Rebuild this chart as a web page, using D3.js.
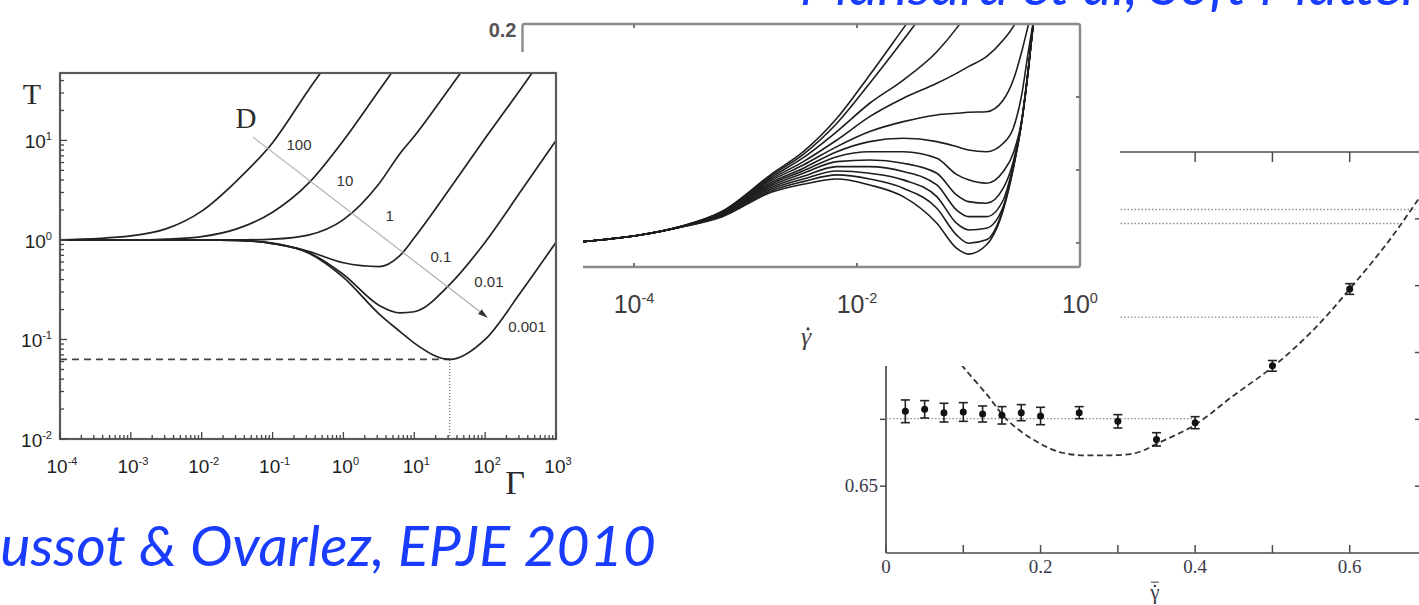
<!DOCTYPE html>
<html>
<head>
<meta charset="utf-8">
<script src="https://cdn.jsdelivr.net/npm/d3@7/dist/d3.min.js"></script>
<style>
  html, body { margin: 0; padding: 0; background: #fff; overflow: hidden; }
  svg { display: block; }
</style>
</head>
<body>
<svg id="fig" width="1419" height="605"></svg>
<script>
// ---------------- Left figure: temperature T vs. Γ for several D ----------------
const gammaA    = [1e-4, 1e-3, 3.2e-3, 0.01, 0.032, 0.1, 0.32, 1, 3.2, 6.3, 10, 32, 100, 320, 1000];
const tempD100  = [1.0, 1.1, 1.3, 1.95, 4.0, 9.5, 32, 100, null, null, null, null, null, null, null];
const tempD10   = [1.0, 1.0, 1.02, 1.08, 1.3, 1.9, 3.7, 10, 32, 63, null, null, null, null, null];
const tempD1    = [1.0, 1.0, 1.0, 1.0, 1.0, 1.02, 1.12, 1.6, 3.7, 7.4, 11, 34, 105, null, null];
const tempD01   = [1.0, 1.0, 1.0, 1.0, 0.99, 0.93, 0.77, 0.59, 0.54, 0.7, 1.05, 3.3, 10.5, 33, 105];
const tempD001  = [1.0, 1.0, 1.0, 1.0, 0.99, 0.92, 0.75, 0.45, 0.22, 0.185, 0.19, 0.36, 0.95, 3.1, 10];
const tempD0001 = [1.0, 1.0, 1.0, 1.0, 0.99, 0.92, 0.74, 0.42, 0.18, 0.12, 0.092, 0.063, 0.1, 0.3, 0.95];
const dLabels   = ["100", "10", "1", "0.1", "0.01", "0.001"];
const dLabelPos = [[0.236, 9.0], [1.05, 3.9], [4.5, 1.74], [23.8, 0.67], [113, 0.38], [390, 0.134]];
const dArrow    = [[0.053, 10.8], [106, 0.168]];
const dTitlePos = [0.042, 13.4];
const gammaMin  = 31.6;
const tempMin   = 0.063;
const expXA = [-4, -3, -2, -1, 0, 1, 2, 3];
const expYA = [-2, -1, 0, 1];

// ---------------- Middle figure: flow curves, stress vs. shear rate ----------------
const rateB = [3.5e-5, 1.1e-4, 2.6e-4, 6.2e-4, 1.7e-3, 3.3e-3, 6.6e-3, 0.013, 0.026, 0.052,
               0.078, 0.10, 0.145, 0.205, 0.252, 0.30, 0.344, 0.381];
const flowCurves = [
  [.0509,.0552,.0612,.0718,.0970,.1125,.1354,.1651,.1970,.2290,null,null,null,null,null,null,null,null],
  [.0509,.0552,.0612,.0715,.0962,.1107,.1320,.1594,.1890,.2200,null,null,null,null,null,null,null,null],
  [.0509,.0552,.0611,.0712,.0950,.1084,.1263,.1457,.1616,.1810,.1970,.2085,null,null,null,null,null,null],
  [.0509,.0552,.0611,.0709,.0938,.1057,.1205,.1365,.1491,.1594,.1662,.1708,.1776,.1890,.1982,.2107,null,null],
  [.0509,.0552,.0610,.0705,.0927,.1034,.1160,.1263,.1331,.1377,.1388,.1395,.1399,.1479,.1616,.1810,.1993,.2130],
  [.0509,.0552,.0610,.0702,.0915,.1012,.1125,.1194,.1217,.1194,.1160,.1137,.1125,.1183,.1286,.1514,.1810,.2016],
  [.0509,.0552,.0610,.0698,.0904,.0994,.1091,.1125,.1125,.1080,.0970,.0932,.0909,.0989,.1114,.1342,.1697,.1993],
  [.0509,.0552,.0609,.0695,.0893,.0977,.1057,.1068,.1046,.0977,.0829,.0783,.0772,.0875,.1057,.1335,.1693,.2005],
  [.0509,.0552,.0609,.0691,.0881,.0957,.1023,.1023,.0989,.0897,.0726,.0680,.0680,.0794,.1034,.1331,.1690,.2005],
  [.0509,.0552,.0608,.0688,.0870,.0938,.0993,.0977,.0932,.0817,.0635,.0589,.0601,.0749,.1023,.1331,.1688,.2005],
  [.0509,.0552,.0608,.0684,.0858,.0920,.0966,.0938,.0875,.0737,.0555,.0498,.0521,.0737,.1012,.1327,.1685,.2005],
  [.0509,.0552,.0607,.0680,.0847,.0902,.0938,.0897,.0817,.0635,.0464,.0423,.0487,.0726,.1008,.1327,.1685,.2005]
];
const expXB = [-4, -2, 0];
const stressTicksB = [0.05, 0.10, 0.15];

// ---------------- Right figure: packing fraction vs. shear rate ----------------
const rateC  = [0.025, 0.05, 0.075, 0.1, 0.125, 0.15, 0.175, 0.2, 0.25, 0.3, 0.35, 0.4, 0.5, 0.6];
const phiC   = [0.6612, 0.6615, 0.6610, 0.6611, 0.6608, 0.6606, 0.6610, 0.6605, 0.6610, 0.6597, 0.6570, 0.6595, 0.6680, 0.6795];
const errC   = [0.0017, 0.0013, 0.0014, 0.0014, 0.0012, 0.0013, 0.0012, 0.0013, 0.0009, 0.0010, 0.0010, 0.0009, 0.0008, 0.0008];
const fitRate = [0.075, 0.0987, 0.132, 0.156, 0.19, 0.228, 0.276, 0.324, 0.353, 0.4, 0.449, 0.502, 0.554, 0.6, 0.65, 0.69, 0.72];
const fitPhi  = [0.6715, 0.668, 0.6635, 0.660, 0.657, 0.655, 0.6546, 0.655, 0.6565, 0.6592, 0.6635, 0.668, 0.6735, 0.6795, 0.6866, 0.6931, 0.698];
const levelPhi = [0.6914, 0.6893, 0.6753, 0.6601];
const levelEnd = [0.685, 0.665, 0.562, 0.40];
const rateTicksC  = [0, 0.1, 0.2, 0.3, 0.4, 0.5, 0.6, 0.7];
const rateLabelsC = [0, 0.2, 0.4, 0.6];
const phiTicksC   = [0.65, 0.66, 0.67, 0.68, 0.69];

// ---------------- citations ----------------
const citeBottom = "Coussot & Ovarlez, EPJE 2010";
const citeTop    = "Mansard et al, Soft Matter 2011";

// ------------------------------------------------------------------
const sans  = "'Liberation Sans', Arial, Helvetica, sans-serif";
const serif = "'Liberation Serif', 'Times New Roman', serif";
const svg = d3.select("#fig");
const defs = svg.append("defs");

function powerLabel(sel, exp, size) {
  sel.append("tspan").text("10");
  sel.append("tspan").attr("dy", -size * 0.42).attr("font-size", size * 0.58)
     .text(String(exp));
}

// gamma with a dot above (shear-rate symbol)
function gammaDot(g, x, y, size, italic, color, bar) {
  g.append("text").attr("x", x).attr("y", y).attr("text-anchor", "middle")
    .attr("font-family", serif).attr("font-style", italic ? "italic" : "normal")
    .attr("font-size", size).attr("fill", color).text("γ");
  g.append("circle").attr("cx", x + (italic ? 2 : 0)).attr("cy", y - size * 0.62).attr("r", size * 0.06).attr("fill", color);
  if (bar) {
    g.append("line").attr("x1", x - 4).attr("x2", x + 4).attr("y1", y - size * 0.8).attr("y2", y - size * 0.8)
      .attr("stroke", color).attr("stroke-width", 1);
  }
}

// ===== Right figure (bottom layer) =====
const xC = d3.scaleLinear().domain([0, 0.7]).range([886, 1427]);
const yC = d3.scaleLinear().domain([0.64, 0.70]).range([553, 152]);
const gC = svg.append("g");
const axC = "#4d4d4d";

// frame
[[0, 0.64, 0.7, 0.64], [0, 0.64, 0, 0.70], [0, 0.70, 0.7, 0.70], [0.7, 0.64, 0.7, 0.70]].forEach(s => {
  gC.append("line").attr("x1", xC(s[0])).attr("y1", yC(s[1])).attr("x2", xC(s[2])).attr("y2", yC(s[3]))
    .attr("stroke", axC).attr("stroke-width", 1.7);
});
// ticks
gC.selectAll(".tb").data(rateTicksC).join("line")
  .attr("x1", d => xC(d)).attr("x2", d => xC(d)).attr("y1", yC(0.64)).attr("y2", yC(0.64) - 8)
  .attr("stroke", axC).attr("stroke-width", 1.5);
gC.selectAll(".tt").data(rateTicksC).join("line")
  .attr("x1", d => xC(d)).attr("x2", d => xC(d)).attr("y1", yC(0.70)).attr("y2", yC(0.70) + 10)
  .attr("stroke", axC).attr("stroke-width", 1.5);
gC.selectAll(".tl").data(phiTicksC).join("line")
  .attr("x1", xC(0) - 6).attr("x2", xC(0)).attr("y1", d => yC(d)).attr("y2", d => yC(d))
  .attr("stroke", axC).attr("stroke-width", 1.5);
gC.selectAll(".tr").data(phiTicksC).join("line")
  .attr("x1", xC(0.7) - 12).attr("x2", xC(0.7)).attr("y1", d => yC(d)).attr("y2", d => yC(d))
  .attr("stroke", axC).attr("stroke-width", 1.5);
// tick labels
gC.selectAll(".lx").data(rateLabelsC).join("text")
  .attr("x", d => xC(d)).attr("y", yC(0.64) + 20).attr("text-anchor", "middle")
  .attr("font-family", serif).attr("font-size", 19).attr("fill", "#3a3a4a")
  .text(d => d === 0 ? "0" : d.toFixed(1));
gC.append("text").attr("x", xC(0) - 8).attr("y", yC(0.65) + 6).attr("text-anchor", "end")
  .attr("font-family", serif).attr("font-size", 19).attr("fill", "#3a3a4a").text("0.65");
gammaDot(gC, xC(0.348), 599, 21, false, "#3a3a4a", true);

// dotted reference levels
gC.selectAll(".lv").data(levelPhi).join("line")
  .attr("x1", xC(0)).attr("x2", (d, i) => xC(levelEnd[i]))
  .attr("y1", d => yC(d)).attr("y2", d => yC(d))
  .attr("stroke", "#8c8c8c").attr("stroke-width", 1.3).attr("stroke-dasharray", "1.5,2");

// dashed fit
const fitLine = d3.line().x(d => xC(d[0])).y(d => yC(d[1])).curve(d3.curveCatmullRom);
gC.append("path").attr("d", fitLine(fitRate.map((r, i) => [r, fitPhi[i]])))
  .attr("fill", "none").attr("stroke", "#333").attr("stroke-width", 1.8).attr("stroke-dasharray", "6,3.5");

// data points with error bars
const ptsC = rateC.map((r, i) => ({ r, p: phiC[i], e: errC[i] }));
const gp = gC.selectAll(".pt").data(ptsC).join("g");
gp.append("line").attr("x1", d => xC(d.r)).attr("x2", d => xC(d.r))
  .attr("y1", d => yC(d.p - d.e)).attr("y2", d => yC(d.p + d.e)).attr("stroke", "#222").attr("stroke-width", 1.6);
gp.append("line").attr("x1", d => xC(d.r) - 4.5).attr("x2", d => xC(d.r) + 4.5)
  .attr("y1", d => yC(d.p + d.e)).attr("y2", d => yC(d.p + d.e)).attr("stroke", "#222").attr("stroke-width", 1.6);
gp.append("line").attr("x1", d => xC(d.r) - 4.5).attr("x2", d => xC(d.r) + 4.5)
  .attr("y1", d => yC(d.p - d.e)).attr("y2", d => yC(d.p - d.e)).attr("stroke", "#222").attr("stroke-width", 1.6);
gp.append("circle").attr("cx", d => xC(d.r)).attr("cy", d => yC(d.p)).attr("r", 3.5).attr("fill", "#111");

// ===== Middle figure =====
const xB = d3.scaleLog().domain([1e-5, 1]).range([522.5, 1080]);
const yB = d3.scaleLinear().domain([0.0335, 0.2]).range([267, 24]);
const gB = svg.append("g");
gB.append("rect").attr("x", 470).attr("y", 0).attr("width", 650).attr("height", 366).attr("fill", "#fff");
defs.append("clipPath").attr("id", "clipB").append("rect")
  .attr("x", xB(1e-5)).attr("y", yB(0.2)).attr("width", xB(1) - xB(1e-5)).attr("height", yB(0.0335) - yB(0.2));
const lineB = d3.line().x(d => xB(d[0])).y(d => yB(d[1])).curve(d3.curveMonotoneX);
gB.append("g").attr("clip-path", "url(#clipB)").selectAll("path")
  .data(flowCurves.map(c => rateB.map((r, i) => [r, c[i]]).filter(p => p[1] != null)))
  .join("path").attr("d", lineB).attr("fill", "none").attr("stroke", "#1e1e1e").attr("stroke-width", 1.6);
gB.append("rect").attr("x", xB(1e-5)).attr("y", yB(0.2))
  .attr("width", xB(1) - xB(1e-5)).attr("height", yB(0.0335) - yB(0.2)).attr("rx", 2)
  .attr("fill", "none").attr("stroke", "#8a8a8a").attr("stroke-width", 2.4);
const ticksXB = [1e-4, 1e-2];
gB.selectAll(".bb").data(ticksXB).join("line")
  .attr("x1", d => xB(d)).attr("x2", d => xB(d)).attr("y1", yB(0.0335)).attr("y2", yB(0.0335) - 4)
  .attr("stroke", "#777").attr("stroke-width", 2);
gB.selectAll(".bt").data(ticksXB).join("line")
  .attr("x1", d => xB(d)).attr("x2", d => xB(d)).attr("y1", yB(0.2)).attr("y2", yB(0.2) + 4)
  .attr("stroke", "#777").attr("stroke-width", 2);
gB.selectAll(".br").data(stressTicksB).join("line")
  .attr("x1", xB(1) - 4).attr("x2", xB(1)).attr("y1", d => yB(d)).attr("y2", d => yB(d))
  .attr("stroke", "#777").attr("stroke-width", 2);
gB.selectAll(".bl").data(expXB).join("text")
  .attr("x", d => xB(Math.pow(10, d))).attr("y", 313).attr("text-anchor", "middle")
  .attr("font-family", sans).attr("font-size", 25).attr("fill", "#3c3c3c")
  .each(function (d) { powerLabel(d3.select(this), d, 25); });
gB.append("text").attr("x", xB(1e-5) - 6).attr("y", yB(0.2) + 13).attr("text-anchor", "end")
  .attr("font-family", sans).attr("font-weight", "bold").attr("font-size", 20).attr("fill", "#555").text("0.2");
gammaDot(gB, 806, 345, 26, true, "#444", false);

// ===== Left figure (top layer) =====
const xA = d3.scaleLog().domain([1e-4, 1e3]).range([60, 556]);
const yA = d3.scaleLog().domain([0.01, 47.6]).range([439, 73]);
const gA = svg.append("g");
gA.append("rect").attr("x", 0).attr("y", 52).attr("width", 583).attr("height", 448).attr("fill", "#fff");
defs.append("clipPath").attr("id", "clipA").append("rect")
  .attr("x", xA(1e-4)).attr("y", yA(47.6)).attr("width", xA(1e3) - xA(1e-4)).attr("height", yA(0.01) - yA(47.6));

// reference lines at the deepest minimum
gA.append("line").attr("x1", xA(1e-4)).attr("x2", xA(gammaMin)).attr("y1", yA(tempMin)).attr("y2", yA(tempMin))
  .attr("stroke", "#444").attr("stroke-width", 1.8).attr("stroke-dasharray", "7,5");
gA.append("line").attr("x1", xA(gammaMin)).attr("x2", xA(gammaMin)).attr("y1", yA(0.01)).attr("y2", yA(tempMin))
  .attr("stroke", "#666").attr("stroke-width", 1.2).attr("stroke-dasharray", "1,2");

// curves
const seriesA = [tempD100, tempD10, tempD1, tempD01, tempD001, tempD0001];
const lineA = d3.line().x(d => xA(d[0])).y(d => yA(d[1])).curve(d3.curveMonotoneX);
gA.append("g").attr("clip-path", "url(#clipA)").selectAll("path")
  .data(seriesA.map(s => gammaA.map((g, i) => [g, s[i]]).filter(p => p[1] != null)))
  .join("path").attr("d", lineA).attr("fill", "none").attr("stroke", "#222").attr("stroke-width", 1.7);

// D arrow
defs.append("marker").attr("id", "arrowA").attr("viewBox", "0 0 10 10").attr("refX", 9).attr("refY", 5)
  .attr("markerWidth", 9).attr("markerHeight", 9).attr("orient", "auto")
  .append("path").attr("d", "M0,2 L10,5 L0,8 Z").attr("fill", "#333");
gA.append("line").attr("x1", xA(dArrow[0][0])).attr("y1", yA(dArrow[0][1]))
  .attr("x2", xA(dArrow[1][0])).attr("y2", yA(dArrow[1][1]))
  .attr("stroke", "#aaa").attr("stroke-width", 1.1).attr("marker-end", "url(#arrowA)");
gA.append("text").attr("x", xA(dTitlePos[0])).attr("y", yA(dTitlePos[1])).attr("text-anchor", "middle")
  .attr("font-family", serif).attr("font-size", 29).attr("fill", "#2a2a2a").text("D");
gA.selectAll(".dl").data(dLabels).join("text")
  .attr("x", (d, i) => xA(dLabelPos[i][0])).attr("y", (d, i) => yA(dLabelPos[i][1]) + 5)
  .attr("text-anchor", "middle").attr("font-family", sans).attr("font-size", 15).attr("fill", "#333")
  .text(d => d);

// frame and ticks
gA.append("rect").attr("x", xA(1e-4)).attr("y", yA(47.6))
  .attr("width", xA(1e3) - xA(1e-4)).attr("height", yA(0.01) - yA(47.6))
  .attr("fill", "none").attr("stroke", "#5a5a5a").attr("stroke-width", 2.2);
const isMajor = v => Math.abs(Math.log10(v) - Math.round(Math.log10(v))) < 1e-6;
gA.selectAll(".ty").data(yA.ticks()).join("line")
  .attr("x1", xA(1e-4)).attr("x2", d => xA(1e-4) + (isMajor(d) ? 7 : 4))
  .attr("y1", d => yA(d)).attr("y2", d => yA(d)).attr("stroke", "#444").attr("stroke-width", 1.3);
gA.selectAll(".tx").data(xA.ticks()).join("line")
  .attr("x1", d => xA(d)).attr("x2", d => xA(d))
  .attr("y1", yA(0.01)).attr("y2", d => yA(0.01) - (isMajor(d) ? 7 : 4)).attr("stroke", "#444").attr("stroke-width", 1.3);
gA.selectAll(".ly").data(expYA).join("text")
  .attr("x", xA(1e-4) - 8).attr("y", d => yA(Math.pow(10, d)) + 8).attr("text-anchor", "end")
  .attr("font-family", sans).attr("font-size", 19).attr("fill", "#1e1e1e")
  .each(function (d) { powerLabel(d3.select(this), d, 19); });
gA.selectAll(".lx").data(expXA).join("text")
  .attr("x", d => xA(Math.pow(10, d)) + 2).attr("y", 473).attr("text-anchor", "middle")
  .attr("font-family", sans).attr("font-size", 19).attr("fill", "#1e1e1e")
  .each(function (d) { powerLabel(d3.select(this), d, 19); });
gA.append("text").attr("x", 32).attr("y", 104).attr("text-anchor", "middle")
  .attr("font-family", serif).attr("font-size", 30).attr("fill", "#2a2a2a").text("T");
gA.append("text").attr("x", 515).attr("y", 494).attr("text-anchor", "middle")
  .attr("font-family", serif).attr("font-size", 34).attr("fill", "#2a2a2a").text("Γ");

// ===== citations =====
const citeFont = "Lato, 'Open Sans', sans-serif";
const probe = svg.append("text").attr("font-family", citeFont).attr("font-style", "italic")
  .attr("font-size", 56).text(citeBottom.slice(2));
const fitW = probe.node().getComputedTextLength();
probe.remove();
const citeSize = 56 * 656 / fitW;
svg.append("text").attr("x", 656).attr("y", 566).attr("text-anchor", "end")
  .attr("font-family", citeFont).attr("font-style", "italic").attr("font-size", citeSize)
  .attr("fill", "#1a3cff").text(citeBottom);
svg.append("text").attr("x", 800).attr("y", 5)
  .attr("font-family", citeFont).attr("font-style", "italic").attr("font-size", citeSize)
  .attr("fill", "#1a3cff").text(citeTop);
</script>
</body>
</html>
